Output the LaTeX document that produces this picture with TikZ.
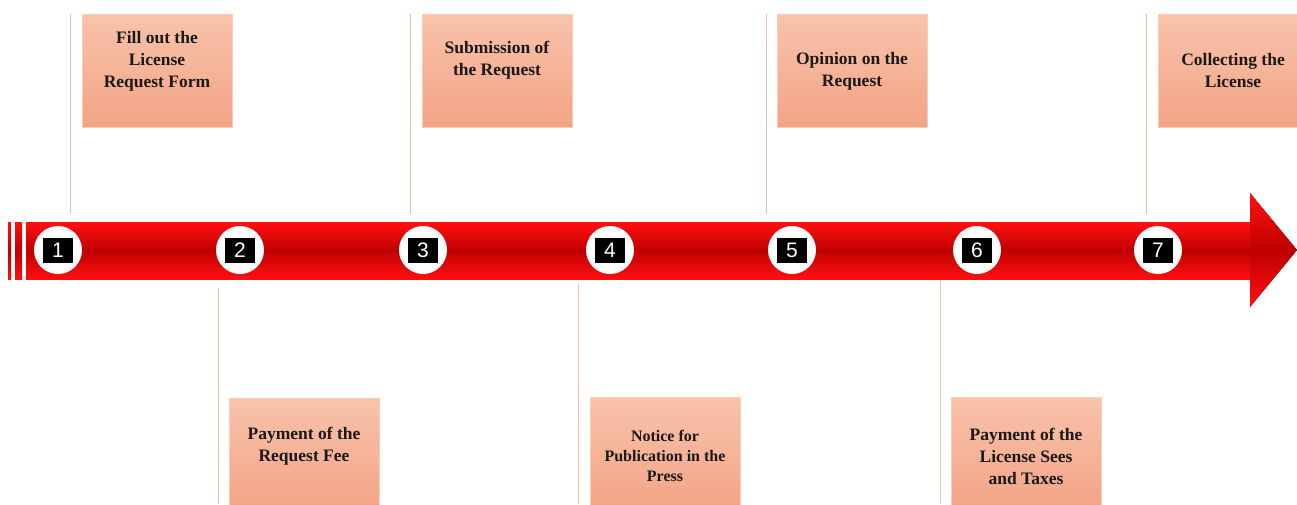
\documentclass[tikz,border=0pt]{standalone}
\usepackage{fontspec}
\setmainfont{Liberation Serif}
\newfontfamily\numfont{Liberation Sans}
\definecolor{boxtop}{HTML}{F8C3AB}
\definecolor{boxbot}{HTML}{F3A385}
\definecolor{boxedge}{HTML}{F9CDB8}
\definecolor{stemc}{HTML}{F4BEA4}
\definecolor{redhi}{HTML}{FF1010}
\definecolor{redlo}{HTML}{BF0000}
\begin{document}
\begin{tikzpicture}[x=1pt,y=-1pt,
  stepbox/.style={draw=boxedge, line width=0.8pt, top color=boxtop, bottom color=boxbot, minimum width=150pt, minimum height=113pt, inner sep=0pt, anchor=north west},
  steptext/.style={font=\bfseries\fontsize{17.5}{22}\selectfont, align=center, text=black!90, inner sep=0pt},
  smalltext/.style={font=\bfseries\fontsize{16}{20}\selectfont, align=center, text=black!90, inner sep=0pt},
  stem/.style={draw=stemc, line width=1pt},
  numc/.style={circle, fill=white, minimum size=48pt, inner sep=0pt},
  numsq/.style={fill=black, text=white, font=\numfont\fontsize{21}{21}\selectfont, minimum width=30pt, minimum height=25pt, inner sep=0pt},
  redshade/.style={top color=redhi, bottom color=redhi, middle color=redlo}]
\useasboundingbox (0,0) rectangle (1297,504);
\fill[white] (0,0) rectangle (1297,504);

% arrow
\fill[redshade] (8,222) rectangle (11,279);
\fill[redshade] (15,222) rectangle (22,279);
\fill[redshade] (26,222) rectangle (1252,279);
\fill[redshade] (1250,193) -- (1297,250) -- (1250,307) -- cycle;

% boxes
\node[stepbox] (b1) at (82,14) {};
\node[stepbox] (b3) at (422,14) {};
\node[stepbox] (b5) at (777,14) {};
\node[stepbox] (b7) at (1158,14) {};
\node[stepbox] (b2) at (229,398) {};
\node[stepbox] (b4) at (590,397) {};
\node[stepbox] (b6) at (951,397) {};

\node[steptext] (t1) at (157,61) {Fill out the\\License\\Request Form};
\node[steptext] (t3) at (497,60) {Submission of\\the Request};
\node[steptext] (t5) at (852,71) {Opinion on the\\Request};
\node[steptext] (t7) at (1233,71) {Collecting the\\License};
\node[steptext] (t2) at (304,446) {Payment of the\\Request Fee};
\node[smalltext] (t4) at (665,456) {Notice for\\Publication in the\\Press};
\node[steptext] (t6) at (1026,456) {Payment of the\\License Sees\\and Taxes};

% stems
\coordinate (s1a) at (70,14);   \coordinate (s1b) at (70,214);
\coordinate (s3a) at (410,14);  \coordinate (s3b) at (410,214);
\coordinate (s5a) at (766,14);  \coordinate (s5b) at (766,214);
\coordinate (s7a) at (1146,14); \coordinate (s7b) at (1146,214);
\coordinate (s2a) at (218,288); \coordinate (s2b) at (218,504);
\coordinate (s4a) at (578,284); \coordinate (s4b) at (578,504);
\coordinate (s6a) at (940,280); \coordinate (s6b) at (940,504);
\foreach \s in {1,2,3,4,5,6,7} {\draw[stem] (s\s a) -- (s\s b);}

% numbers
\foreach \i/\x in {1/58,2/240,3/423,4/610,5/792,6/977,7/1158} {
  \node[numc] (c\i) at (\x,250) {};
  \node[numsq] (n\i) at (c\i) {\i};
}
\end{tikzpicture}
\end{document}
